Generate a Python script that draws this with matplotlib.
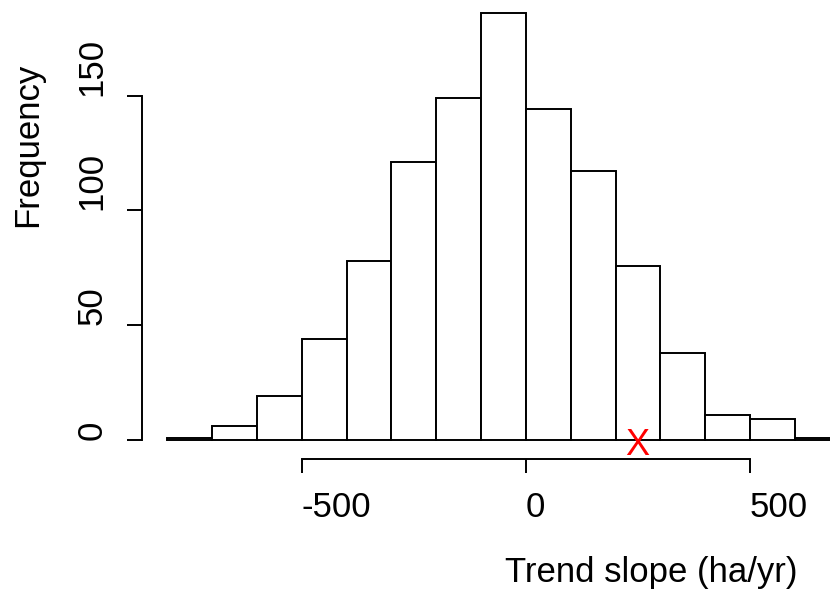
import matplotlib
matplotlib.use("Agg")
import matplotlib.pyplot as plt
import matplotlib.transforms as mtransforms
import numpy as np

# Data
bin_edges = [-800, -700, -600, -500, -400, -300, -200, -100, 0, 100, 200, 300, 400, 500, 600, 700]
counts = [1, 6, 19, 44, 78, 121, 149, 186, 144, 117, 76, 38, 11, 9, 1]
x_ticks = [-500, 0, 500]
x_tick_labels = ["-500", "0", "500"]
y_ticks = [0, 50, 100, 150]
y_tick_labels = ["0", "50", "100", "150"]
observed_slope = 222
x_label = "Trend slope (ha/yr)"
y_label = "Frequency"

plt.rcParams['font.family'] = ['Liberation Sans', 'DejaVu Sans']
FS = 25
W, H = 830, 590
fig = plt.figure(figsize=(W / 100, H / 100), dpi=100)

# plot region in pixels
left_px, bottom_px, right_px, top_px = 141.7, 459.0, 830.0, 0.0
ax = fig.add_axes([left_px / W, (H - bottom_px) / H, (right_px - left_px) / W, (bottom_px - top_px) / H])
xscale = 0.4483
x0px = 525.85
yscale = 2.2953
y0px = 440.0
ax.set_xlim((left_px - x0px) / xscale, (right_px - x0px) / xscale)
ax.set_ylim((y0px - bottom_px) / yscale, (y0px - top_px) / yscale)

lefts = np.array(bin_edges[:-1])
widths = np.diff(bin_edges)
ax.bar(lefts, counts, width=widths, align='edge', facecolor='white',
       edgecolor='black', linewidth=1.4)

for s in ['top', 'right']:
    ax.spines[s].set_visible(False)
ax.spines['bottom'].set_bounds(x_ticks[0], x_ticks[-1])
ax.spines['left'].set_bounds(y_ticks[0], y_ticks[-1])
for s in ['bottom', 'left']:
    ax.spines[s].set_linewidth(1.4)

ax.set_xticks(x_ticks)
ax.set_xticklabels(x_tick_labels, fontsize=FS, ha='left')
ax.set_yticks(y_ticks)
ax.set_yticklabels(y_tick_labels, fontsize=FS, rotation=90, va='bottom', ha='right')
ax.tick_params(axis='x', direction='out', length=10, width=1.4, pad=13)
ax.tick_params(axis='y', direction='out', length=11, width=1.4, pad=13)

# observed value marker
trans = mtransforms.offset_copy(ax.transData, fig=fig, x=0, y=-15, units='dots')
ax.text(observed_slope, 0, "X", color='red', fontsize=26, ha='left', va='baseline',
        transform=trans, clip_on=False)

fig.text(505 / W, (H - 582) / H, x_label, fontsize=FS, ha='left', va='baseline')
fig.text(28 / W, (H - 227) / H, y_label, fontsize=FS, rotation=90, ha='center', va='bottom')

fig.savefig("out.png", dpi=100)
